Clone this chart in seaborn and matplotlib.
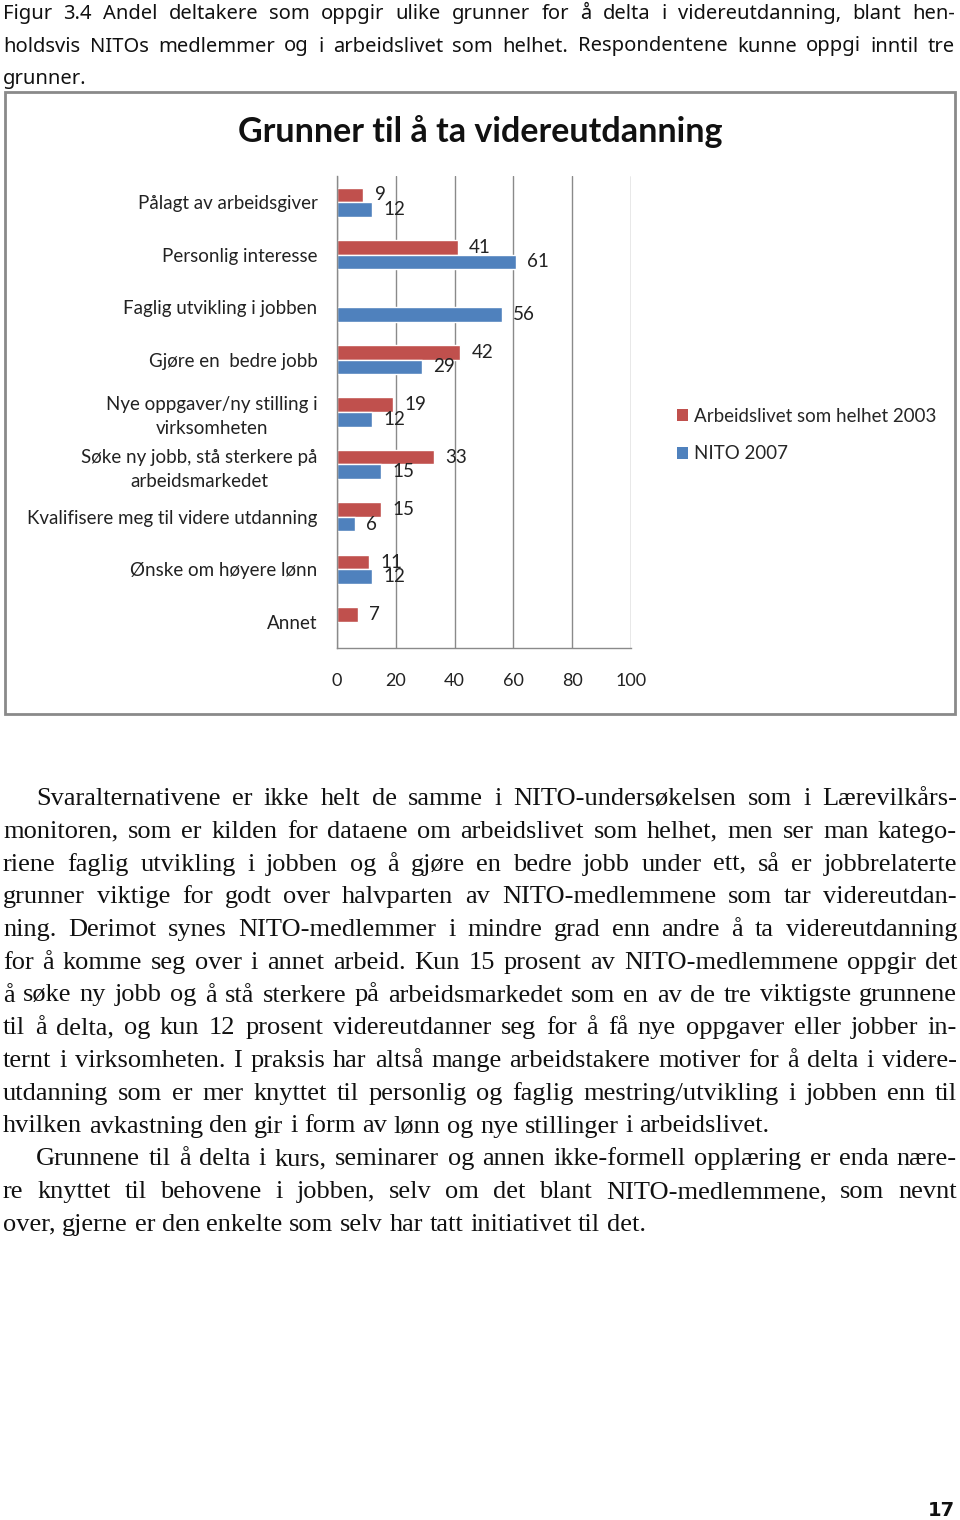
import numpy as np
import pandas as pd
import matplotlib
matplotlib.use("Agg")
import matplotlib.pyplot as plt
import seaborn as sns
from matplotlib.patches import Rectangle, Patch

# chart data
categories = [
    "Pålagt av arbeidsgiver",
    "Personlig interesse",
    "Faglig utvikling i jobben",
    "Gjøre en  bedre jobb",
    "Nye oppgaver/ny stilling i\nvirksomheten",
    "Søke ny jobb, stå sterkere på\narbeidsmarkedet",
    "Kvalifisere meg til videre utdanning",
    "Ønske om høyere lønn",
    "Annet",
]
arbeidslivet_2003 = [9, 41, np.nan, 42, 19, 33, 15, 11, 7]
nito_2007 = [12, 61, 56, 29, 12, 15, 6, 12, np.nan]
series_names = ["Arbeidslivet som helhet 2003", "NITO 2007"]
series_colors = ["#C0504D", "#4F81BD"]
x_ticks = [0, 20, 40, 60, 80, 100]

title = "Grunner til å ta videreutdanning"

caption_lines = [
    "Figur 3.4 Andel deltakere som oppgir ulike grunner for å delta i videreutdanning, blant hen-",
    "holdsvis NITOs medlemmer og i arbeidslivet som helhet. Respondentene kunne oppgi inntil tre",
    "grunner.",
]

body_lines = [
    "Svaralternativene er ikke helt de samme i NITO-undersøkelsen som i Lærevilkårs-",
    "monitoren, som er kilden for dataene om arbeidslivet som helhet, men ser man katego-",
    "riene faglig utvikling i jobben og å gjøre en bedre jobb under ett, så er jobbrelaterte",
    "grunner viktige for godt over halvparten av NITO-medlemmene som tar videreutdan-",
    "ning. Derimot synes NITO-medlemmer i mindre grad enn andre å ta videreutdanning",
    "for å komme seg over i annet arbeid. Kun 15 prosent av NITO-medlemmene oppgir det",
    "å søke ny jobb og å stå sterkere på arbeidsmarkedet som en av de tre viktigste grunnene",
    "til å delta, og kun 12 prosent videreutdanner seg for å få nye oppgaver eller jobber in-",
    "ternt i virksomheten. I praksis har altså mange arbeidstakere motiver for å delta i videre-",
    "utdanning som er mer knyttet til personlig og faglig mestring/utvikling i jobben enn til",
    "hvilken avkastning den gir i form av lønn og nye stillinger i arbeidslivet.",
    "Grunnene til å delta i kurs, seminarer og annen ikke-formell opplæring er enda nære-",
    "re knyttet til behovene i jobben, selv om det blant NITO-medlemmene, som nevnt",
    "over, gjerne er den enkelte som selv har tatt initiativet til det.",
]
body_indent = [True, False, False, False, False, False, False, False, False, False, False, True, False, False]
body_justify = [True, True, True, True, True, True, True, True, True, True, False, True, True, False]

page_number = "17"

sns.set_theme(style="white")
plt.rcParams["font.family"] = ["Lato", "DejaVu Sans"]

W, H = 960, 1520
fig = plt.figure(figsize=(W / 100, H / 100), dpi=100)


def fx(px):
    return px / W


def fy(py):
    return 1 - py / H


# chart frame
fig.patches.append(Rectangle((fx(5), fy(714)), fx(950), 622 / H, transform=fig.transFigure,
                             fill=False, edgecolor="#8a8a8a", linewidth=2, zorder=0))

# long-form data for seaborn
df = pd.DataFrame({
    "grunn": categories * 2,
    "serie": [series_names[0]] * len(categories) + [series_names[1]] * len(categories),
    "andel": arbeidslivet_2003 + nito_2007,
}).dropna()

ax = fig.add_axes([fx(337), fy(648), fx(631) - fx(337), (648 - 176) / H])
sns.barplot(data=df, y="grunn", x="andel", hue="serie", order=categories,
            hue_order=series_names, palette=series_colors, width=0.555,
            saturation=1, orient="h", ax=ax, legend=False)

ax.set_xlim(0, 100)
ax.set_ylim(len(categories) - 0.5, -0.5)
ax.set_xticks(x_ticks)
ax.set_xticklabels([str(t) for t in x_ticks], fontsize=13, color="#222222")
ax.set_yticks(range(len(categories)))
ax.set_yticklabels(categories, fontsize=13.5, color="#222222", multialignment="center",
                   linespacing=1.5)
ax.set_yticks(np.arange(-0.5, len(categories), 1), minor=True)
ax.tick_params(axis="y", which="major", length=0, pad=14)
ax.tick_params(axis="y", which="minor", length=4, color="#8a8a8a", width=1, direction="out")
ax.tick_params(axis="x", which="major", length=5, color="#8a8a8a", width=1, direction="out", pad=13)
ax.set_xlabel("")
ax.set_ylabel("")
ax.grid(axis="x", color="#8a8a8a", linewidth=1)
ax.set_axisbelow(True)
for side in ["top", "right"]:
    ax.spines[side].set_visible(False)
for side in ["left", "bottom"]:
    ax.spines[side].set_color("#8a8a8a")
    ax.spines[side].set_linewidth(1)

for cont in ax.containers:
    ax.bar_label(cont, labels=[f"{b.get_width():.0f}" for b in cont], padding=8,
                 fontsize=13.5, color="#222222")

fig.text(0.5, fy(132), title, ha="center", va="center", fontsize=24.5,
         fontweight="bold", color="#111111")

handles = [Patch(facecolor=c, edgecolor="none") for c in series_colors]
fig.legend(handles, series_names, loc="upper left", bbox_to_anchor=(fx(677), fy(408)),
           bbox_transform=fig.transFigure, frameon=False, fontsize=13.5,
           handlelength=0.6, handleheight=0.6, handletextpad=0.3,
           labelspacing=1.08, borderpad=0, borderaxespad=0)

# page text, justified word by word
renderer = fig.canvas.get_renderer()


def text_width(s, props):
    t = fig.text(0, 0, s, **props)
    w = t.get_window_extent(renderer).width
    t.remove()
    return w


def draw_line(line, x0, x1, baseline, props, justify):
    words = line.split(" ")
    widths = [text_width(w, props) for w in words]
    space = text_width("x x", props) - text_width("xx", props)
    if justify and len(words) > 1:
        gap = max((x1 - x0 - sum(widths)) / (len(words) - 1), 0.5 * space)
    else:
        gap = space
    x = x0
    for w, wd in zip(words, widths):
        fig.text(fx(x), fy(baseline), w, ha="left", va="baseline", **props)
        x += wd + gap


cap_props = dict(fontsize=14.5, family=["Noto Sans", "DejaVu Sans"], color="#111111")
for i, line in enumerate(caption_lines):
    draw_line(line, 3, 955, 19 + 32.5 * i, cap_props, i < 2)

body_props = dict(fontsize=19, family=["Liberation Serif", "DejaVu Serif"], color="#111111")
for i, line in enumerate(body_lines):
    x0 = 36 if body_indent[i] else 3
    draw_line(line, x0, 957, 805 + 32.75 * i, body_props, body_justify[i])

fig.text(fx(955), fy(1516), page_number, ha="right", va="baseline", fontsize=14,
         fontweight="bold", family=["DejaVu Sans"], color="#111111")

fig.savefig("out.png", dpi=100, facecolor="white")
